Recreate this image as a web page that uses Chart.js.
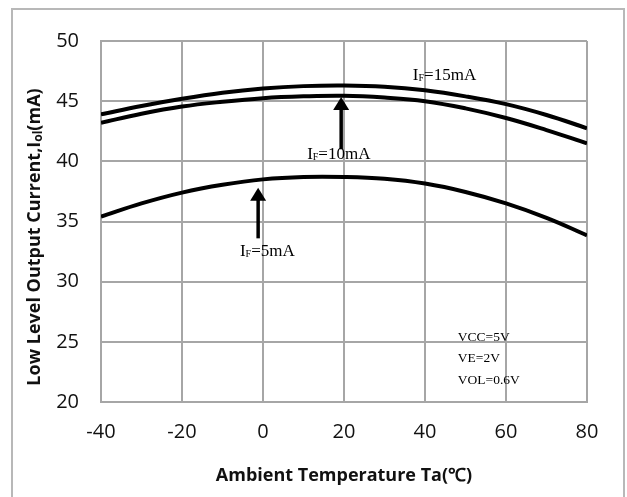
<!DOCTYPE html>
<html>
<head>
<meta charset="utf-8">
<script src="https://cdn.jsdelivr.net/npm/chart.js@4/dist/chart.umd.min.js"></script>
<style>
  html, body { margin: 0; padding: 0; background: #fff; }
  #wrap { width: 627px; height: 497px; }
</style>
</head>
<body>
<div id="wrap"><canvas id="grafica"></canvas></div>
<script>
// datos
const temperaturas = [-40, -30, -20, -10, 0, 10, 20, 30, 40, 50, 60, 70, 80];
const corriente15 = [43.9, 44.6, 45.2, 45.7, 46.05, 46.25, 46.3, 46.2, 45.9, 45.4, 44.75, 43.85, 42.75];
const corriente10 = [43.2, 43.95, 44.55, 44.95, 45.25, 45.4, 45.45, 45.3, 45.0, 44.4, 43.6, 42.6, 41.5];
const corriente5 = [35.4, 36.5, 37.4, 38.05, 38.5, 38.7, 38.7, 38.55, 38.15, 37.45, 36.5, 35.3, 33.85];

const etiquetasX = [-40, -20, 0, 20, 40, 60, 80];
const etiquetasY = [20, 25, 30, 35, 40, 45, 50];

// textos de las curvas (en unidades de datos)
const etiquetasCurvas = [
    { sub: 'F', resto: '=15mA', x: 37, y: 47.15 },
    { sub: 'F', resto: '=10mA', x: 10.9, y: 40.6 },
    { sub: 'F', resto: '=5mA', x: -5.7, y: 32.5 }
];
const flechas = [
    { x: 19.3, desde: 41.0, hasta: 45.35 },
    { x: -1.2, desde: 33.6, hasta: 37.8 }
];
const condiciones = ['VCC=5V', 'VE=2V', 'VOL=0.6V'];
const condicionesPos = { x: 48.1, y: [25.33, 23.58, 21.75] };

function puntos(valores) {
    return temperaturas.map((t, i) => ({ x: t, y: valores[i] }));
}

const serie = (nombre, valores) => ({
    label: nombre,
    data: puntos(valores),
    borderColor: '#000',
    borderWidth: 4,
    pointRadius: 0,
    tension: 0.4,
    fill: false
});

// ==============================
// PLUGIN: ANOTACIONES Y MARCO
// ==============================
const anotaciones = {
    id: 'anotaciones',
    beforeDraw(chart) {
        const ctx = chart.ctx;
        ctx.save();
        ctx.strokeStyle = '#b8b8b8';
        ctx.lineWidth = 2;
        ctx.strokeRect(12, 9, 612, 520);
        ctx.restore();
    },
    afterDatasetsDraw(chart) {
        const ctx = chart.ctx;
        const sx = chart.scales.x, sy = chart.scales.y;
        ctx.save();

        // flechas
        flechas.forEach(f => {
            const px = sx.getPixelForValue(f.x);
            const y0 = sy.getPixelForValue(f.desde);
            const y1 = sy.getPixelForValue(f.hasta);
            ctx.strokeStyle = '#000';
            ctx.lineWidth = 3.5;
            ctx.beginPath();
            ctx.moveTo(px, y0);
            ctx.lineTo(px, y1 + 10);
            ctx.stroke();
            ctx.fillStyle = '#000';
            ctx.beginPath();
            ctx.moveTo(px, y1);
            ctx.lineTo(px - 8, y1 + 13);
            ctx.lineTo(px + 8, y1 + 13);
            ctx.closePath();
            ctx.fill();
        });

        // textos de corriente
        ctx.textBaseline = 'middle';
        ctx.fillStyle = '#000';
        etiquetasCurvas.forEach(e => {
            let px = sx.getPixelForValue(e.x);
            const py = sy.getPixelForValue(e.y);
            ctx.font = '17px "Liberation Serif"';
            ctx.fillText('I', px, py);
            px += ctx.measureText('I').width;
            ctx.font = '10px "Liberation Serif"';
            ctx.fillText(e.sub, px, py + 3);
            px += ctx.measureText(e.sub).width;
            ctx.font = '17px "Liberation Serif"';
            ctx.fillText(e.resto, px, py);
        });

        ctx.font = '13.5px "Liberation Serif"';
        condiciones.forEach((c, i) => {
            ctx.fillText(c, sx.getPixelForValue(condicionesPos.x), sy.getPixelForValue(condicionesPos.y[i]));
        });

        // titulo del eje Y con subindice
        ctx.translate(35, 237);
        ctx.rotate(-Math.PI / 2);
        const principal = 'Low Level Output Current,I';
        const sub = 'ol';
        const cola = '(mA)';
        ctx.font = 'bold 18px "Open Sans"';
        const w1 = ctx.measureText(principal).width;
        const w3 = ctx.measureText(cola).width;
        ctx.font = 'bold 12px "Open Sans"';
        const w2 = ctx.measureText(sub).width;
        let x = -(w1 + w2 + w3) / 2;
        ctx.fillStyle = '#111';
        ctx.font = 'bold 18px "Open Sans"';
        ctx.fillText(principal, x, 0);
        x += w1;
        ctx.font = 'bold 12px "Open Sans"';
        ctx.fillText(sub, x, 4);
        x += w2;
        ctx.font = 'bold 18px "Open Sans"';
        ctx.fillText(cola, x, 0);
        ctx.restore();
    }
};

document.addEventListener('DOMContentLoaded', function () {

    new Chart(document.getElementById('grafica'), {
        type: 'line',
        data: {
            datasets: [
                serie('IF=15mA', corriente15),
                serie('IF=10mA', corriente10),
                serie('IF=5mA', corriente5)
            ]
        },
        options: {
            responsive: true,
            maintainAspectRatio: false,
            animation: false,
            layout: { padding: { left: 0, right: 40, top: 41, bottom: 0 } },
            plugins: {
                legend: { display: false },
                tooltip: { enabled: false }
            },
            scales: {
                x: {
                    type: 'linear',
                    min: etiquetasX[0],
                    max: etiquetasX[etiquetasX.length - 1],
                    afterBuildTicks(scale) {
                        scale.ticks = etiquetasX.map(v => ({ value: v }));
                    },
                    afterFit(scale) { scale.height = 95; },
                    grid: { color: '#a6a6a6', lineWidth: 2, drawTicks: false },
                    border: { color: '#a6a6a6', width: 2 },
                    ticks: {
                        padding: 18,
                        color: '#111',
                        font: { family: '"Open Sans"', size: 20 }
                    },
                    title: {
                        display: true,
                        text: 'Ambient Temperature Ta(℃)',
                        color: '#111',
                        font: { family: '"Open Sans"', size: 18, weight: 'bold' },
                        padding: { top: 0, bottom: 10 }
                    }
                },
                y: {
                    min: etiquetasY[0],
                    max: etiquetasY[etiquetasY.length - 1],
                    afterBuildTicks(scale) {
                        scale.ticks = etiquetasY.map(v => ({ value: v }));
                    },
                    afterFit(scale) { scale.width = 101; },
                    grid: { color: '#a6a6a6', lineWidth: 2, drawTicks: false },
                    border: { color: '#a6a6a6', width: 2 },
                    ticks: {
                        padding: 22,
                        color: '#111',
                        font: { family: '"Open Sans"', size: 20 }
                    }
                }
            }
        },
        plugins: [anotaciones]
    });
});
</script>
</body>
</html>
